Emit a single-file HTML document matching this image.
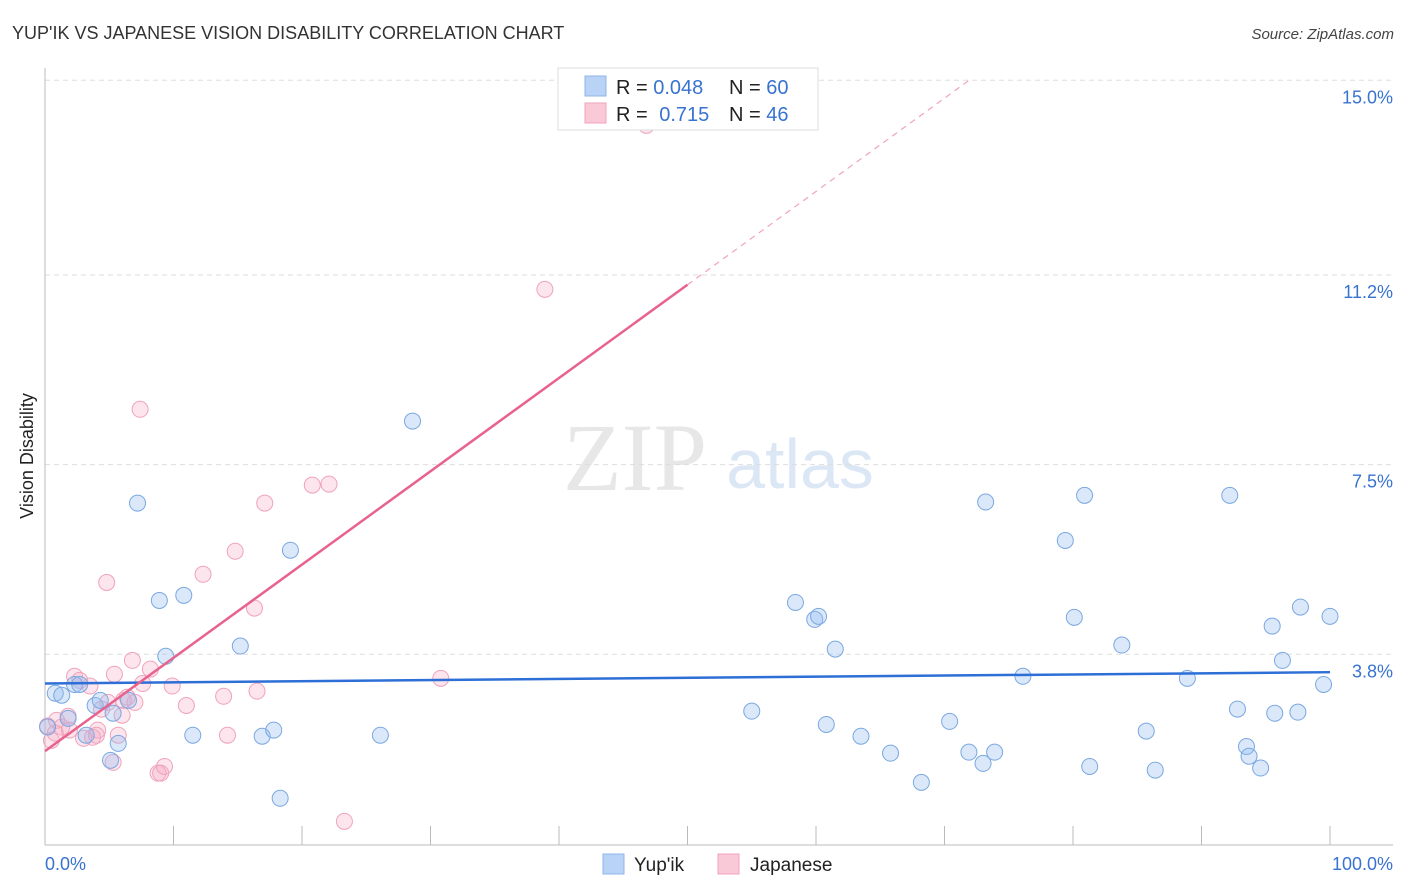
<!DOCTYPE html>
<html><head><meta charset="utf-8"><style>
body{margin:0;background:#fff;font-family:"Liberation Sans",sans-serif}
svg{display:block}
</style></head><body>
<svg id="chart" width="1406" height="892" viewBox="0 0 1406 892" xmlns="http://www.w3.org/2000/svg">
<text x="12" y="39" font-size="18" fill="#333" font-family="Liberation Sans, sans-serif">YUP'IK VS JAPANESE VISION DISABILITY CORRELATION CHART</text>
<text x="1394" y="39" font-size="15" fill="#444" font-style="italic" text-anchor="end" font-family="Liberation Sans, sans-serif">Source: ZipAtlas.com</text>
<text transform="translate(33,456) rotate(-90)" font-size="18" fill="#222" text-anchor="middle" font-family="Liberation Sans, sans-serif">Vision Disability</text>
<g opacity="0.35">
<text x="635" y="490" font-size="96" fill="#bbb" font-family="Liberation Serif, serif" text-anchor="middle">ZIP</text>
<text x="800" y="488" font-size="70" fill="#9dbde6" font-family="Liberation Sans, sans-serif" text-anchor="middle">atlas</text>
</g>
<g id="grid"></g>
<g id="axes"></g>
<g id="marks"></g>
<g id="lines"></g>
<g>
<rect x="558" y="68" width="260" height="62" fill="#fff" stroke="#ddd"/>
<rect x="585" y="76" width="21" height="20" fill="#b8d3f5" stroke="#8fb5e8"/>
<rect x="585" y="103" width="21" height="20" fill="#f9c9d8" stroke="#f0a3bb"/>
<text x="616" y="94" font-size="20" fill="#222">R = <tspan fill="#3873d0">0.048</tspan></text>
<text x="729" y="94" font-size="20" fill="#222">N = <tspan fill="#3873d0">60</tspan></text>
<text x="616" y="121" font-size="20" fill="#222">R = <tspan fill="#3873d0" dx="6">0.715</tspan></text>
<text x="729" y="121" font-size="20" fill="#222">N = <tspan fill="#3873d0">46</tspan></text>
</g>
<g>
<rect x="603" y="854" width="21" height="20" fill="#b8d3f5" stroke="#8fb5e8"/>
<text x="634" y="871" font-size="19" fill="#222">Yup'ik</text>
<rect x="718" y="854" width="21" height="20" fill="#f9c9d8" stroke="#f0a3bb"/>
<text x="750" y="871" font-size="19" fill="#222">Japanese</text>
</g>
</svg>
<script>
const yTicks=[15.0,11.2,7.5,3.8];
const yTickLabels=["15.0%","11.2%","7.5%","3.8%"];
const xTickVals=[0,10,20,30,40,50,60,70,80,90,100];
const blueX=[0.8,1.3,1.8,2.3,2.7,3.9,4.3,5.1,5.3,5.7,6.5,7.2,8.9,9.4,10.8,11.5,15.2,16.9,17.8,18.3,19.1,26.1,28.6,55.0,58.4,59.9,60.2,60.8,61.5,63.5,65.8,68.2,70.4,71.9,73.0,73.2,73.9,76.1,79.4,80.1,80.9,81.3,83.8,85.7,86.4,88.9,92.2,92.8,93.5,93.7,94.6,95.5,95.7,96.3,97.5,97.7,99.5,100.0,0.2,3.2];
const blueY=[3.04,3.0,2.55,3.21,3.21,2.80,2.90,1.73,2.65,2.06,2.90,6.75,4.85,3.76,4.95,2.22,3.96,2.20,2.32,0.99,5.83,2.22,8.35,2.69,4.81,4.48,4.54,2.43,3.90,2.20,1.87,1.30,2.49,1.89,1.67,6.77,1.89,3.37,6.02,4.52,6.90,1.61,3.98,2.30,1.54,3.33,6.90,2.73,2.00,1.81,1.58,4.35,2.65,3.68,2.67,4.72,3.21,4.54,2.38,2.22];
const pinkX=[0.2,0.5,0.9,1.3,1.8,1.9,2.3,3.0,3.5,3.7,4.1,4.4,4.8,5.3,5.4,5.7,6.0,6.4,6.8,7.0,7.4,7.6,8.2,8.8,9.0,9.3,9.9,11.0,12.3,13.9,14.2,14.8,16.3,16.5,17.1,20.8,22.1,23.3,30.8,38.9,46.8,0.8,2.7,4.9,6.1,4.0];
const pinkY=[2.40,2.12,2.51,2.38,2.59,2.32,3.37,2.16,3.18,2.18,2.32,2.73,5.20,1.69,3.41,2.22,2.61,2.96,3.68,2.86,8.58,3.23,3.51,1.48,1.48,1.61,3.18,2.80,5.36,2.98,2.22,5.81,4.70,3.08,6.75,7.10,7.12,0.54,3.33,10.92,14.12,2.26,3.29,2.86,2.90,2.22];
const blueFit=[3.23,3.45];
const pinkFit=[1.91,0.182];
const NS="http://www.w3.org/2000/svg";
const X0=45,X1=1330,Y0=849,PXPER=51.25;
function sx(v){return X0+(X1-X0)*v/100;}
function sy(v){return Y0-v*PXPER;}
function mk(tag,attrs,parent){const e=document.createElementNS(NS,tag);for(const k in attrs)e.setAttribute(k,attrs[k]);parent.appendChild(e);return e;}
const grid=document.getElementById('grid'),axes=document.getElementById('axes'),marks=document.getElementById('marks'),lines=document.getElementById('lines');
yTicks.forEach((t,i)=>{
 const l=mk('line',{x1:45,x2:1393,y1:sy(t),y2:sy(t),stroke:'#ddd','stroke-dasharray':'5,4'},grid);
 
 
 const tx=mk('text',{x:1393,y:sy(t)+23,'font-size':18,fill:'#3873d0','text-anchor':'end'},axes);
 tx.textContent=yTickLabels[i];
 
 
});
const ax=mk('line',{x1:45,x2:45,y1:68,y2:845,stroke:'#bbb'},axes);


const bx=mk('line',{x1:45,x2:1393,y1:845,y2:845,stroke:'#bbb'},axes);


xTickVals.forEach(v=>{
 const t=mk('line',{x1:sx(v),x2:sx(v),y1:826,y2:845,stroke:'#bbb'},axes);
 
 
});
const xl0=mk('text',{x:45,y:870,'font-size':18,fill:'#3873d0'},axes);xl0.textContent='0.0%';


const xl1=mk('text',{x:1393,y:870,'font-size':18,fill:'#3873d0','text-anchor':'end'},axes);xl1.textContent='100.0%';


pinkX.forEach((x,i)=>{
 const c=mk('circle',{cx:sx(x),cy:sy(pinkY[i]),r:8,fill:'rgba(246,170,195,0.3)',stroke:'#f0a3bb','stroke-width':1},marks);
 
 
});
blueX.forEach((x,i)=>{
 const c=mk('circle',{cx:sx(x),cy:sy(blueY[i]),r:8,fill:'rgba(150,190,240,0.35)',stroke:'#7aa8e0','stroke-width':1},marks);
 
 
});
const bl=mk('line',{x1:sx(0),y1:sy(blueFit[0]),x2:sx(100),y2:sy(blueFit[1]),stroke:'#2d6fd6','stroke-width':2.5},lines);


const pEnd=50;
const pl=mk('line',{x1:sx(0),y1:sy(pinkFit[0]),x2:sx(pEnd),y2:sy(pinkFit[0]+pinkFit[1]*pEnd),stroke:'#e8628e','stroke-width':2.5},lines);


const xTop=(15-pinkFit[0])/pinkFit[1];
const pd=mk('line',{x1:sx(pEnd),y1:sy(pinkFit[0]+pinkFit[1]*pEnd),x2:sx(xTop),y2:sy(15),stroke:'#f0a3bb','stroke-width':1.2,'stroke-dasharray':'6,5'},lines);


</script>
</body></html>
